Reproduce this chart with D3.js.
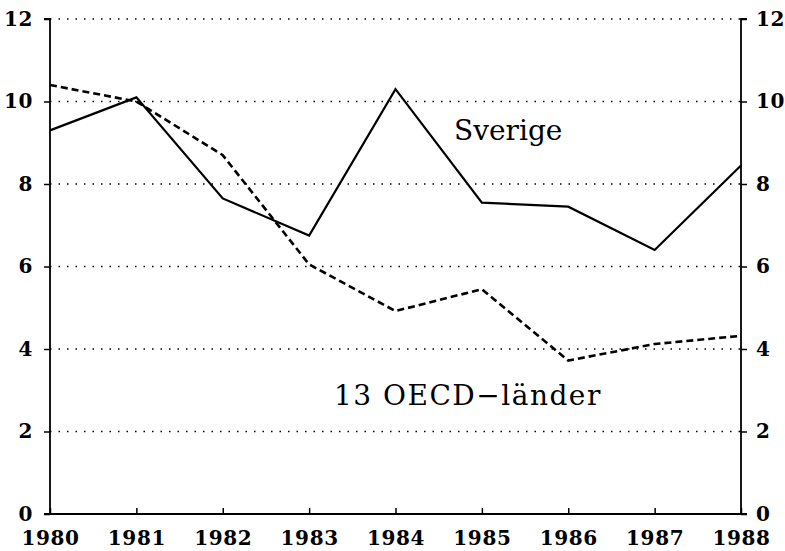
<!DOCTYPE html>
<html><head><meta charset="utf-8">
<script src="https://cdn.jsdelivr.net/npm/d3@7"></script>
<style>body{margin:0;background:#fff}svg{display:block}</style>
</head><body>
<script>
const years = [1980,1981,1982,1983,1984,1985,1986,1987,1988];
const sverige = [9.3,10.1,7.65,6.75,10.3,7.55,7.45,6.4,8.45];
const oecd = [10.4,10.0,8.7,6.05,4.92,5.45,3.72,4.12,4.32];
const yTicks = [0,2,4,6,8,10,12];
const seriesLabels = ["Sverige","13 OECD\u2212länder"];

const W=785,H=551;
const m={left:50,right:44,top:19,bottom:37};
const svg=d3.select("body").append("svg").attr("width",W).attr("height",H);
const x=d3.scaleLinear().domain([1980,1988]).range([m.left,W-m.right]);
const y=d3.scaleLinear().domain([0,12]).range([H-m.bottom,m.top]);
const font="'DejaVu Serif', serif";

// grid dotted
svg.append("g").selectAll("line").data(yTicks.filter(d=>d>0)).join("line")
  .attr("x1",x(1980)).attr("x2",x(1988)).attr("y1",d=>y(d)).attr("y2",d=>y(d))
  .attr("stroke","#000").attr("stroke-width",1.3).attr("stroke-dasharray","1.5,7");

// axes
const left=d3.axisLeft(y).tickValues(yTicks).tickSize(6).tickPadding(11).tickFormat(d3.format("d"));
const right=d3.axisRight(y).tickValues(yTicks).tickSize(6).tickPadding(9).tickFormat(d3.format("d"));
const bottom=d3.axisBottom(x).tickValues(years).tickSize(-6).tickPadding(10).tickFormat(d3.format("d"));
function style(g){
  g.select(".domain").attr("stroke","#000").attr("stroke-width",1.8);
  g.selectAll(".tick line").attr("stroke","#000").attr("stroke-width",1.5);
  g.selectAll("text").attr("font-family",font).attr("font-weight","bold").attr("font-size",20)
   .attr("letter-spacing",0.6).attr("fill","#000");
}
svg.append("g").attr("transform",`translate(${x(1980)},0)`).call(left).call(style).select(".domain").attr("d",`M-6,${y(12)}H0V${y(0)}H-6`);
svg.append("g").attr("transform",`translate(${x(1988)},0)`).call(right).call(style).select(".domain").attr("d",`M6,${y(12)}H0V${y(0)}H6`);
const gb=svg.append("g").attr("transform",`translate(0,${y(0)})`).call(bottom).call(style);
gb.select(".domain").attr("d",`M${x(1980)},0H${x(1988)}`);
gb.selectAll("text").attr("y",31).attr("dy",0);

const line=d3.line().x((d,i)=>x(years[i])).y(d=>y(d));
svg.append("path").datum(sverige).attr("d",line).attr("fill","none").attr("stroke","#000").attr("stroke-width",2.2).attr("stroke-linejoin","miter");
svg.append("path").datum(oecd).attr("d",line).attr("fill","none").attr("stroke","#000").attr("stroke-width",2.6).attr("stroke-dasharray","7,4");

svg.append("text").attr("x",454).attr("y",140).text(seriesLabels[0])
  .attr("font-family",font).attr("font-size",28).attr("fill","#000");
svg.append("text").attr("x",334).attr("y",405).text(seriesLabels[1])
  .attr("font-family",font).attr("font-size",28).attr("letter-spacing",1.5).attr("fill","#000");
</script>
</body></html>
